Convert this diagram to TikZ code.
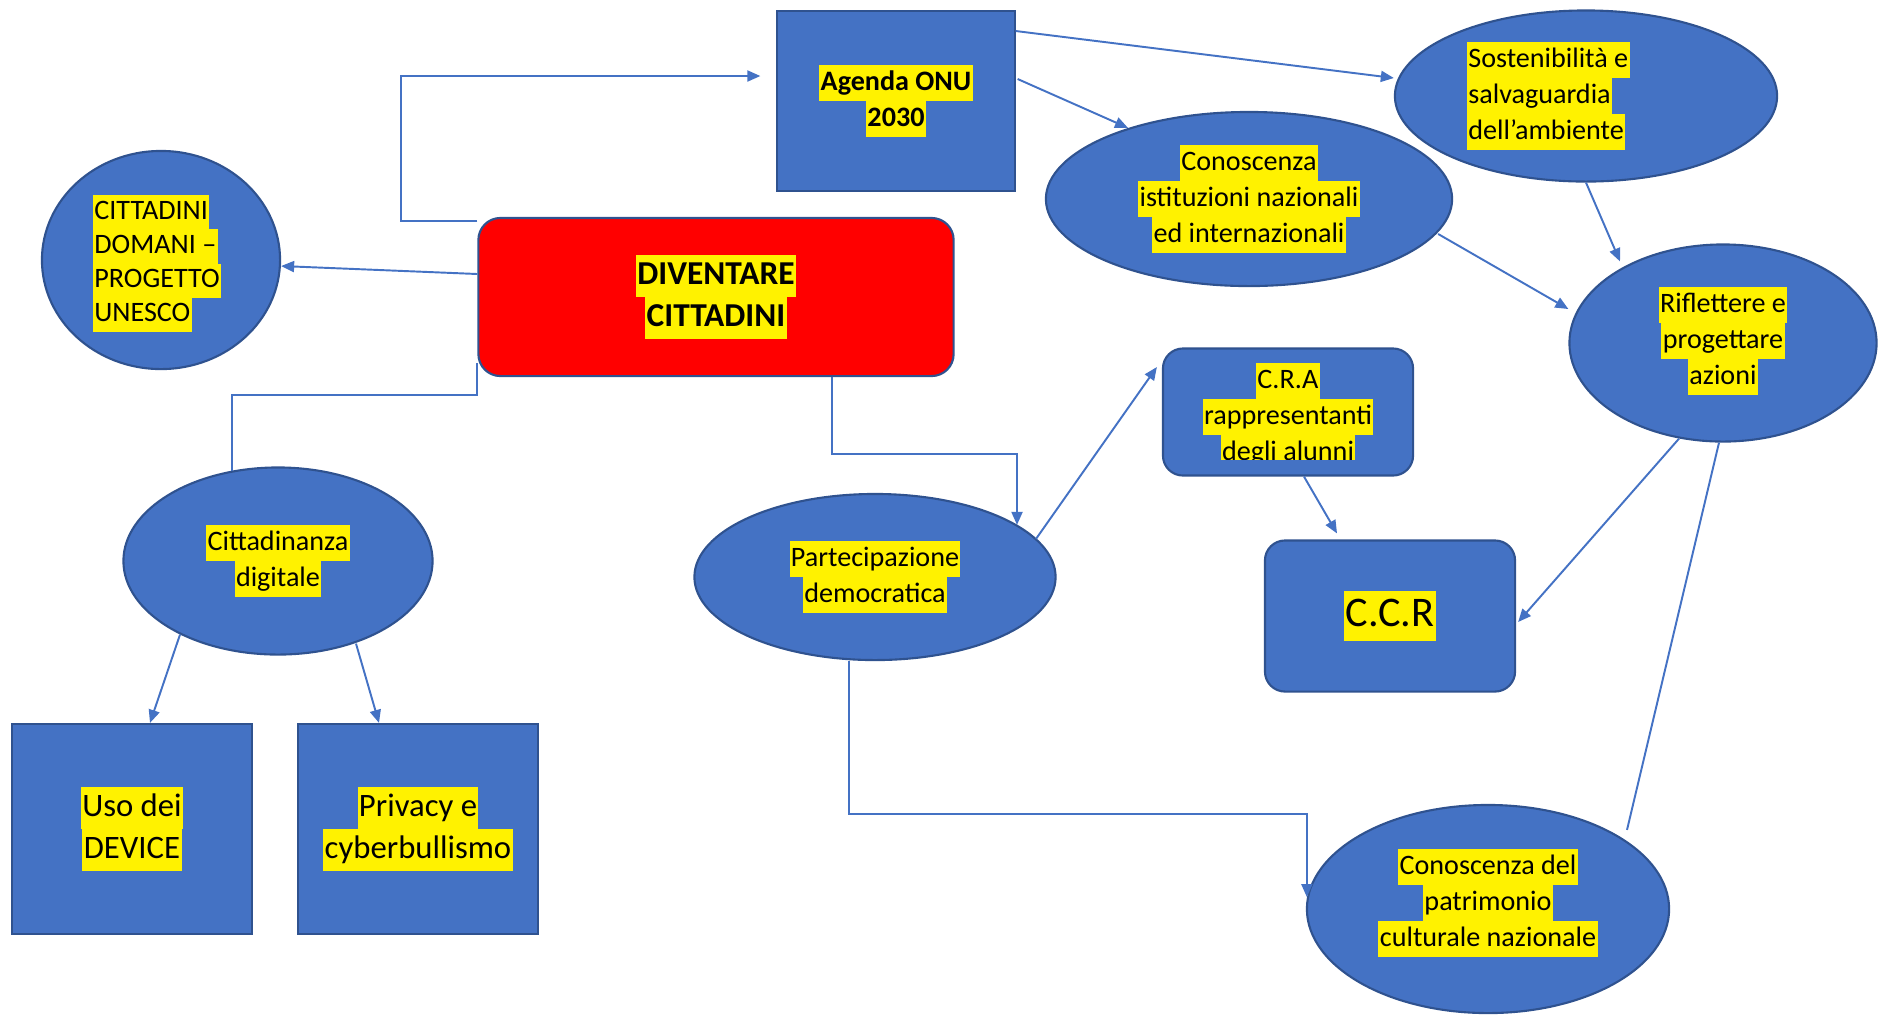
\documentclass[tikz,border=0pt]{standalone}
\usepackage{fontspec}
\setmainfont{Carlito}
\usetikzlibrary{shapes.geometric}
\usetikzlibrary{arrows.meta}
\definecolor{officeblue}{HTML}{4472C4}
\definecolor{edgeblue}{HTML}{2F528F}
\newcommand{\hlt}[1]{{\spaceskip=0pt\xspaceskip=0pt\setlength{\fboxsep}{0pt}\colorbox{yellow}{\strut\kern0.4pt#1\kern0.4pt}}}

\begin{document}
\begin{tikzpicture}[x=0.01cm,y=-0.01cm,
	>={Triangle[length=0.13cm,width=0.11cm]},
	bluebox/.style={rectangle,draw=edgeblue,line width=0.6pt,fill=officeblue,inner sep=0pt,font=\fontsize{8}{10.2}\selectfont,align=center},
	bluerbox/.style={bluebox,rounded corners=0.2cm},
	redrbox/.style={bluebox,fill=red,rounded corners=0.22cm},
	blueoval/.style={ellipse,draw=edgeblue,line width=0.6pt,fill=officeblue,inner sep=0pt,font=\fontsize{8}{10.2}\selectfont,align=center},
	conn/.style={draw=officeblue,line width=0.55pt}]
	\useasboundingbox (0,0) rectangle (1885,1014);
	\node[bluebox,minimum width=2.37cm,minimum height=1.8cm,font=\fontsize{8}{10.2}\selectfont\bfseries] (agenda) at (896,101) {\hlt{Agenda ONU}\\\hlt{2030}};
	\node[redrbox,minimum width=4.75cm,minimum height=1.58cm,font=\fontsize{9.5}{12}\selectfont\bfseries] (diventare) at (716,297) {\hlt{DIVENTARE}\\\hlt{CITTADINI}};
	\node[blueoval,minimum width=2.38cm,minimum height=2.18cm,text width=1.36cm,align=left,text height=8.8pt,font=\fontsize{8}{9.7}\selectfont] (unesco) at (161,260) {\hlt{CITTADINI}\\\hlt{DOMANI --}\\\hlt{PROGETTO}\\\hlt{UNESCO}};
	\node[blueoval,minimum width=3.09cm,minimum height=1.87cm] (digitale) at (278,561) {\hlt{Cittadinanza}\\\hlt{digitale}};
	\node[bluebox,minimum width=2.39cm,minimum height=2.1cm,font=\fontsize{9.3}{12}\selectfont] (device) at (132,829) {\hlt{Uso dei}\\\hlt{DEVICE}};
	\node[bluebox,minimum width=2.39cm,minimum height=2.1cm,font=\fontsize{9.3}{12}\selectfont] (privacy) at (418,829) {\hlt{Privacy e}\\\hlt{cyberbullismo}};
	\node[blueoval,minimum width=3.61cm,minimum height=1.66cm] (partec) at (875,577) {\hlt{Partecipazione}\\\hlt{democratica}};
	\node[blueoval,minimum width=4.06cm,minimum height=1.74cm] (istituz) at (1249,199) {\hlt{Conoscenza}\\\hlt{istituzioni nazionali}\\\hlt{ed internazionali}};
	\node[blueoval,minimum width=3.82cm,minimum height=1.71cm,text width=2.38cm,align=left] (sosten) at (1586,96) {\hlt{Sostenibilità e}\\\hlt{salvaguardia}\\\hlt{dell’ambiente}};
	\node[blueoval,minimum width=3.07cm,minimum height=1.97cm,text depth=4.2pt] (riflet) at (1723,343) {\hlt{Riflettere e}\\\hlt{progettare}\\\hlt{azioni}};
	\node[bluerbox,minimum width=2.5cm,minimum height=1.27cm] (cra) at (1288,412) {};
	\begin{scope}
		\clip (cra.north west) rectangle ([shift={(0,-17.5)}]cra.south east);
		\node[font=\fontsize{8}{10.2}\selectfont,align=center,inner sep=0pt] (cratext) at ([shift={(0,5)}]cra.center) {\hlt{C.R.A}\\\hlt{rappresentanti}\\\hlt{degli alunni}};
	\end{scope}
	\node[bluerbox,minimum width=2.5cm,minimum height=1.51cm,font=\fontsize{12}{14.4}\selectfont] (ccr) at (1390,616) {\hlt{C.C.R}};
	\node[blueoval,minimum width=3.62cm,minimum height=2.08cm,text depth=6.5pt] (patrim) at (1488,909) {\hlt{Conoscenza del}\\\hlt{patrimonio}\\\hlt{culturale nazionale}};
	\draw[conn,->] ([shift={(0,-76)}]diventare.west) -- ++(-76,0) |- ([shift={(-16,-25)}]agenda.west);
	\draw[conn,->] ([shift={(0,-23)}]diventare.west) -- ([shift={(0,6)}]unesco.east);
	\draw[conn] ([shift={(0,66)}]diventare.west) -- ++(0,32) -| ([shift={(-46,5)}]digitale.north);
	\draw[conn,->] ([shift={(116,0)}]diventare.south) -- ++(0,77) -| ([shift={(142,32)}]partec.north);
	\draw[conn,->] ([shift={(-98,-21)}]digitale.south) -- ([shift={(18,0)}]device.north);
	\draw[conn,->] ([shift={(78,-12)}]digitale.south) -- ([shift={(-39,0)}]privacy.north);
	\draw[conn,->] ([shift={(161,46)}]partec.north) -- ([shift={(-5,-45)}]cra.west);
	\draw[conn,->] ([shift={(-26,0)}]partec.south) -- ++(0,153) -| ([shift={(1,-12)}]patrim.west);
	\draw[conn,->] ([shift={(0,-70)}]agenda.east) -- ([shift={(0,-18)}]sosten.west);
	\draw[conn,->] ([shift={(2,-22)}]agenda.east) -- ([shift={(-121,17)}]istituz.north);
	\draw[conn,->] ([shift={(-15,35)}]istituz.east) -- ([shift={(0,-34)}]riflet.west);
	\draw[conn,->] (sosten.south) -- ([shift={(-103,18)}]riflet.north);
	\draw[conn,->] ([shift={(16,0)}]cra.south) -- ([shift={(-53,-6)}]ccr.north);
	\draw[conn,->] ([shift={(-44,-4)}]riflet.south) -- ([shift={(2,6)}]ccr.east);
	\draw[conn] ([shift={(-4,0)}]riflet.south) -- ([shift={(139,26)}]patrim.north);
\end{tikzpicture}
\end{document}
